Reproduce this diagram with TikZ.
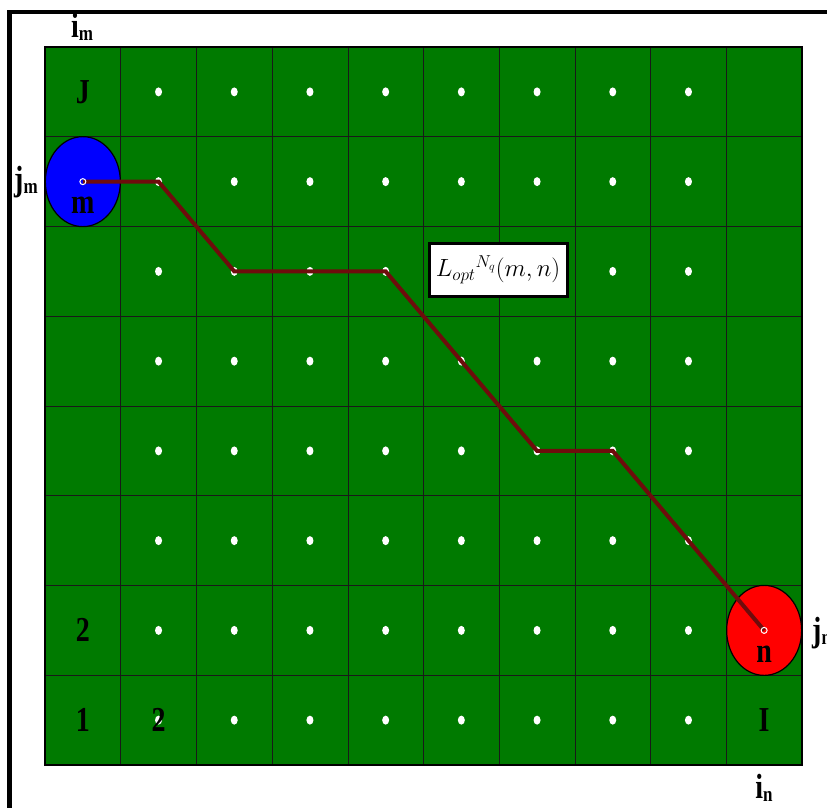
\documentclass[tikz,border=0pt]{standalone}
\usepackage{fontspec}
\setmainfont{Liberation Serif}
\usetikzlibrary{shapes.geometric,calc}
\definecolor{cellgreen}{RGB}{0,122,0}
\definecolor{pathred}{RGB}{110,12,12}
\newcommand\tallbox[1]{\scalebox{1}[1.25]{#1}}
\tikzset{
  lbl/.style={font=\fontsize{28}{28}\selectfont\bfseries, inner sep=0pt},
  cdot/.style={fill=white, draw=none, ellipse, minimum width=7pt, minimum height=9pt, inner sep=0pt},
  gridline/.style={draw=black!90, line width=0.6pt},
  route/.style={draw=pathred, line width=4pt, line join=miter},
  endpt/.style={ellipse, draw=black, line width=1.2pt, minimum width=75pt, minimum height=90pt, inner sep=0pt},
  lbox/.style={rectangle, fill=white, draw=black, line width=3pt, minimum width=138pt, minimum height=53pt, inner sep=2pt}
}
\begin{document}
\begin{tikzpicture}[x=1pt,y=-1pt]
\useasboundingbox (0,0) rectangle (827,807);
% outer frame (top and left)
\coordinate (ftl) at (9.5,12);
\coordinate (ftr) at (830,12);
\coordinate (fbl) at (9.5,810);
\draw[line width=4.5pt] (ftr) -- (ftl) -- (fbl);
% grid
\coordinate (gtl) at (45,47);
\coordinate (gbr) at (802,765);
\fill[cellgreen] (gtl) rectangle (gbr);
\foreach \i in {1,...,9} {
  \draw[gridline] ({45+75.7*\i},47) -- ({45+75.7*\i},765);
}
\foreach \j in {1,...,7} {
  \draw[gridline] (45,{47+89.75*\j}) -- (802,{47+89.75*\j});
}
\draw[line width=1.8pt] (gtl) rectangle (gbr);
% cell centres
\foreach \i in {1,...,10} {
  \foreach \j in {1,...,8} {
    \coordinate (c-\i-\j) at ({45+75.7*(\i-0.5)},{47+89.75*(\j-0.5)});
  }
}
% dots
\foreach \i in {2,...,9} {
  \foreach \j in {1,...,8} {
    \node[cdot] (d-\i-\j) at (c-\i-\j) {};
  }
}
% endpoints
\node[endpt, fill=blue] (m) at (c-1-2) {};
\node[endpt, fill=red] (n) at (c-10-7) {};
% route
\draw[route] (c-1-2) -- (c-2-2) -- (c-3-3) -- (c-4-3) -- (c-5-3) -- (c-6-4) -- (c-7-5) -- (c-8-5) -- (c-9-6) -- (c-10-7);
\draw[white, line width=1pt] (c-1-2) circle (3pt);
\draw[white, line width=1pt] (c-10-7) circle (3pt);
\node[lbl] (mlab) at ($(c-1-2)+(0,24)$) {\tallbox{m}};
\node[lbl] (nlab) at ($(c-10-7)+(0,24)$) {\tallbox{n}};
% label box
\node[lbox] (lopt) at (498,270) {\fontsize{25}{25}\selectfont$L_{opt}{}^{N_q}(m,n)$};
% cell texts
\node[lbl] (tJ) at (c-1-1) {\tallbox{J}};
\node[lbl] (t2a) at (c-1-7) {\tallbox{2}};
\node[lbl] (t1) at (c-1-8) {\tallbox{1}};
\node[lbl] (t2b) at (c-2-8) {\tallbox{2}};
\node[lbl] (tI) at (c-10-8) {\tallbox{I}};
% axis labels
\node[lbl, anchor=base] (im) at (82,37) {\tallbox{i\raisebox{-3pt}{\fontsize{17}{17}\selectfont m}}};
\node[lbl, anchor=base west] (jm) at (14,190) {\tallbox{j\raisebox{-3pt}{\fontsize{17}{17}\selectfont m}}};
\node[lbl, anchor=base west] (jn) at (812,641) {\tallbox{j\raisebox{-3pt}{\fontsize{17}{17}\selectfont n}}};
\node[lbl, anchor=base] (in) at (764,798) {\tallbox{i\raisebox{-3pt}{\fontsize{17}{17}\selectfont n}}};
\end{tikzpicture}
\end{document}
